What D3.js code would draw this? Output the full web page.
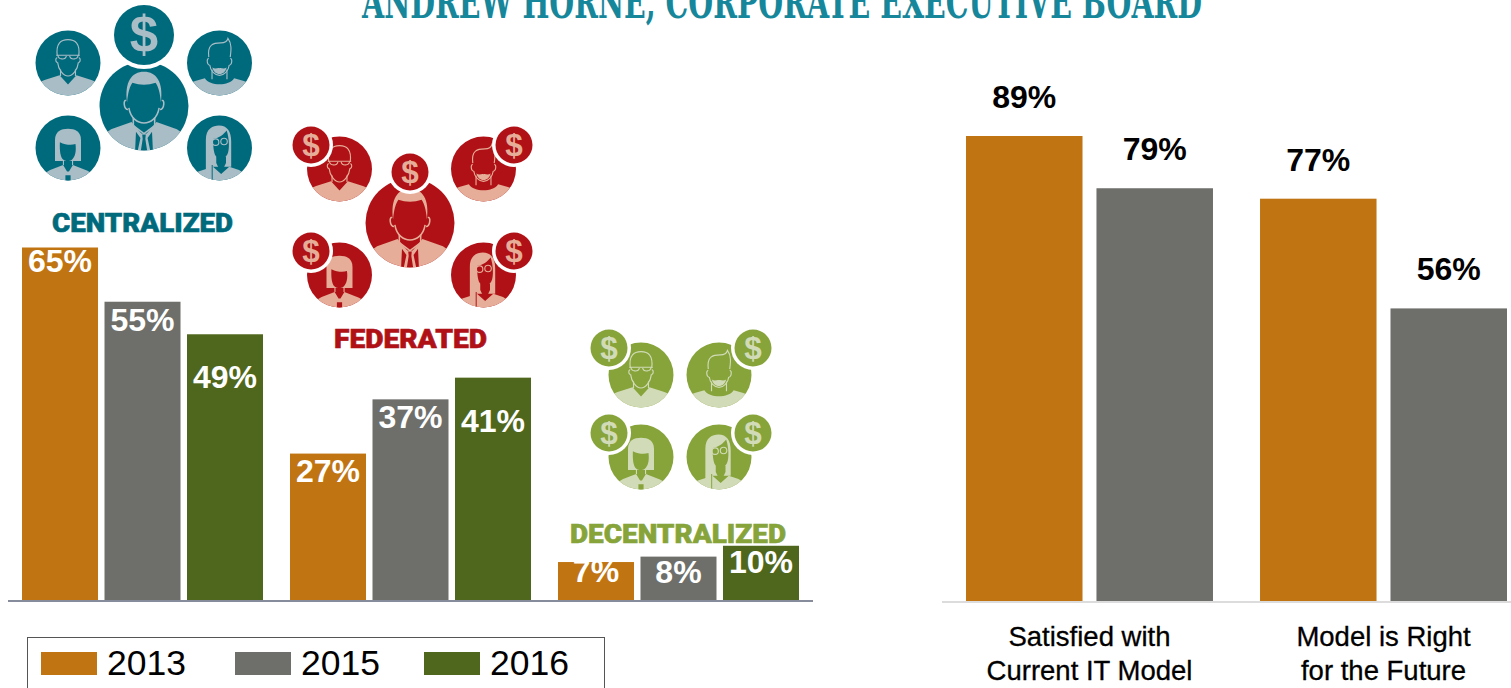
<!DOCTYPE html>
<html>
<head>
<meta charset="utf-8">
<script src="https://cdn.jsdelivr.net/npm/d3@7"></script>
<style>
  html, body { margin: 0; padding: 0; background: #fff; overflow: hidden; }
  text { font-family: "Liberation Sans", Arial, sans-serif; }
</style>
</head>
<body>
<div id="chart"></div>
<script>
// the data
var models = ["CENTRALIZED", "FEDERATED", "DECENTRALIZED"];
var years = ["2013", "2015", "2016"];
var values2013 = [65, 27, 7];
var values2015 = [55, 37, 8];
var values2016 = [49, 41, 10];

var outcomes = ["Satisfied with|Current IT Model", "Model is Right|for the Future"];
var outcomeYears = ["2013", "2015"];
var outcome2013 = [89, 77];
var outcome2015 = [79, 56];

var titleText = "ANDREW HORNE, CORPORATE EXECUTIVE BOARD";

var colors = d3.scaleOrdinal().domain(years).range(["#c07512", "#6e6f6b", "#4f671c"]);
var byYear = {"2013": values2013, "2015": values2015, "2016": values2016};
var outcomeByYear = {"2013": outcome2013, "2015": outcome2015};

var svg = d3.select("#chart")
  .append("svg")
    .attr("width", 1511)
    .attr("height", 688)
    .style("display", "block");

// clip for the portraits, they are all drawn in a circle of radius 100
svg.append("defs").append("clipPath")
    .attr("id", "portrait")
  .append("circle")
    .attr("r", 100);

// title, cut off by the top of the page like in the original
svg.append("text")
    .attr("x", 362)
    .attr("y", 18)
    .attr("textLength", 840)
    .attr("lengthAdjust", "spacingAndGlyphs")
    .style("font-family", "'DejaVu Serif Condensed', 'DejaVu Serif', serif")
    .style("font-size", "44px")
    .style("font-weight", "bold")
    .style("fill", "#16879b")
    .text(titleText);

// left chart
var baseLeft = 600;
var x0 = d3.scaleBand().domain(models).range([22, 799]).paddingInner(0.1007);
var x1 = d3.scaleBand().domain(years).range([0, x0.bandwidth()]).paddingInner(0.0788);
var y = d3.scaleLinear().domain([0, 65]).range([baseLeft, 247.5]);

// how far each label sits under the top of its bar
var labelDrop = {
  "2013": [24, 28, 20],
  "2015": [29, 29, 26],
  "2016": [54, 54, 27]
};

years.forEach(function(year) {
  var g = svg.append("g");
  g.selectAll("rect")
    .data(byYear[year])
    .join("rect")
      .attr("x", function(d, i) { return x0(models[i]) + x1(year); })
      .attr("y", function(d) { return y(d); })
      .attr("width", x1.bandwidth())
      .attr("height", function(d) { return baseLeft - y(d); })
      .style("fill", colors(year));
  g.selectAll("text")
    .data(byYear[year])
    .join("text")
      .attr("x", function(d, i) { return x0(models[i]) + x1(year) + x1.bandwidth() / 2; })
      .attr("y", function(d, i) { return y(d) + labelDrop[year][i]; })
      .attr("text-anchor", "middle")
      .style("font-size", "32px")
      .style("font-weight", "bold")
      .style("fill", "#fff")
      .text(function(d) { return d + "%"; });
});

svg.append("line")
    .attr("x1", 8).attr("x2", 813)
    .attr("y1", 601).attr("y2", 601)
    .style("stroke", "#868c9c")
    .style("stroke-width", 2);

// right chart
var baseRight = 601;
var xr0 = d3.scaleBand().domain(outcomes).range([966, 1507]).paddingInner(0.16);
var xr1 = d3.scaleBand().domain(outcomeYears).range([0, xr0.bandwidth()]).paddingInner(0.107);
var yr = d3.scaleLinear().domain([0, 89]).range([baseRight, 136]);

outcomeYears.forEach(function(year) {
  var g = svg.append("g");
  g.selectAll("rect")
    .data(outcomeByYear[year])
    .join("rect")
      .attr("x", function(d, i) { return xr0(outcomes[i]) + xr1(year); })
      .attr("y", function(d) { return yr(d); })
      .attr("width", xr1.bandwidth())
      .attr("height", function(d) { return baseRight - yr(d); })
      .style("fill", colors(year));
  g.selectAll("text")
    .data(outcomeByYear[year])
    .join("text")
      .attr("x", function(d, i) { return xr0(outcomes[i]) + xr1(year) + xr1.bandwidth() / 2; })
      .attr("y", function(d) { return yr(d) - 28; })
      .attr("text-anchor", "middle")
      .style("font-size", "32px")
      .style("font-weight", "bold")
      .style("fill", "#000")
      .text(function(d) { return d + "%"; });
});

var xAxis = svg.append("g")
    .attr("transform", "translate(0," + baseRight + ")")
    .call(d3.axisBottom(xr0).tickSize(0).tickFormat(""));
xAxis.select(".domain").remove();
xAxis.selectAll(".tick text").remove();
xAxis.selectAll(".tick").each(function(d) {
  var label = d3.select(this).append("text")
      .attr("text-anchor", "middle")
      .style("font-size", "27.5px")
      .style("fill", "#000")
      .style("stroke", "#000")
      .style("stroke-width", 0.3);
  d.split("|").forEach(function(part, i) {
    label.append("tspan").attr("x", 0).attr("y", 45 + i * 33.5).text(part);
  });
});

svg.append("line")
    .attr("x1", 942).attr("x2", 1511)
    .attr("y1", 602).attr("y2", 602)
    .style("stroke", "#dcdcdc")
    .style("stroke-width", 2);

// legend
svg.append("rect")
    .attr("x", 27.5).attr("y", 637.5)
    .attr("width", 577).attr("height", 80)
    .style("fill", "none")
    .style("stroke", "#555");

var legendX = d3.scaleOrdinal().domain(years).range([41, 235, 424]);
years.forEach(function(year) {
  svg.append("rect")
      .attr("x", legendX(year)).attr("y", 652)
      .attr("width", 56).attr("height", 23)
      .style("fill", colors(year));
  svg.append("text")
      .attr("x", legendX(year) + 66).attr("y", 675)
      .style("font-size", "35.5px")
      .style("fill", "#000")
      .text(year);
});

// portraits, drawn in a -100..100 box
// pale = filled light, dark = filled in the circle colour on top, line = light outlines
var glyphs = {
  glasses: {
    pale: ["M-110,110 L-110,68 L-72,52 L-26,38 L0,66 L26,38 L72,52 L110,68 L110,110 Z"],
    dark: [],
    line: ["M-33,-22 C-38,-60 -22,-72 0,-72 C22,-72 38,-60 33,-22",
           "M-32,-2 C-30,20 -14,40 0,40 C14,40 30,20 32,-2",
           "M-23,20 L-23,40 M23,20 L23,40",
           "M-36,-24 L36,-24",
           "M-31,-24 C-30,-10 -8,-8 -5,-22 M31,-24 C30,-10 8,-8 5,-22",
           "M-33,-16 C-40,-16 -38,0 -32,-2 M33,-16 C40,-16 38,0 32,-2"]
  },
  beard: {
    pale: ["M-110,110 L-110,70 L-75,55 L-45,47 C-30,72 30,72 45,47 L75,55 L110,70 L110,110 Z",
           "M-22,14 C-12,20 -6,14 0,16 C6,14 12,20 22,14 C18,30 8,34 0,34 C-8,34 -18,30 -22,14 Z"],
    dark: [],
    line: ["M-33,-18 C-38,-58 -18,-62 4,-62 C18,-62 24,-68 26,-76 C38,-60 36,-40 33,-18",
           "M-23,20 L-23,50 M23,20 L23,50",
           "M-33,-14 C-41,-14 -38,8 -30,6 M33,-14 C41,-14 38,8 30,6",
           "M-30,6 C-28,24 -14,38 0,38 C14,38 28,24 30,6"]
  },
  bob: {
    pale: ["M-110,110 L-110,100 L-55,68 L-15,52 L-3,72 L3,72 L15,52 L60,70 L110,100 L110,110 Z",
           "M-40,40 L-40,-25 C-40,-50 -22,-59 0,-59 C22,-59 40,-50 40,-25 L40,40 Z"],
    dark: ["M-25,-18 C-8,-10 8,-8 23,-12 C26,10 22,28 12,36 C4,42 -6,42 -14,36 C-24,28 -26,8 -25,-18 Z",
           "M-8,84 L8,84 L8,110 L-8,110 Z"],
    line: ["M-14,38 L-14,52 M14,38 L14,52"]
  },
  long: {
    pale: ["M-110,110 L-110,100 L-65,72 L-20,58 L5,80 L30,58 L60,68 L110,100 L110,110 Z",
           "M-42,110 L-42,-25 C-42,-60 -20,-69 -2,-69 C24,-69 36,-50 36,-20 L36,58 L-20,58 L-20,110 Z"],
    dark: ["M-20,-28 C0,-30 14,-44 22,-54 C30,-30 32,5 24,20 C14,38 -4,38 -12,24 C-18,14 -20,-10 -20,-28 Z",
           "M-10,28 L-10,46 L5,78 L20,46 L20,28 Z",
           "M-24,52 L-21,52 L-21,110 L-24,110 Z"],
    line: ["M-2,-18 A10,10 0 1 0 -22,-18 A10,10 0 1 0 -2,-18 M24,-20 A10,10 0 1 0 4,-20 A10,10 0 1 0 24,-20"]
  },
  suit: {
    pale: ["M-110,110 L-110,78 L-74,52 L-28,36 L-6,62 L6,62 L28,36 L74,52 L110,78 L110,110 Z",
           "M-38,-8 C-44,-54 -28,-77 0,-77 C28,-77 44,-54 38,-8 C36,-30 32,-44 26,-52 C10,-46 -10,-46 -26,-52 C-32,-44 -36,-30 -38,-8 Z"],
    dark: ["M-18,58 L-8,72 L-14,100 L-20,100 Z M18,58 L8,72 L14,100 L20,100 Z",
           "M-4,64 L4,64 L3,74 L7,100 L-7,100 L-3,74 Z"],
    line: ["M-40,-12 C-47,-16 -46,8 -36,8 M40,-12 C47,-16 46,8 36,8",
           "M-34,4 C-30,28 -14,38 0,38 C14,38 30,28 34,4",
           "M-24,26 L-24,44 L0,62 L24,44 L24,26"]
  }
};

function person(kind, cx, cy, r, dark, light) {
  var g = svg.append("g")
      .attr("transform", "translate(" + cx + "," + cy + ") scale(" + r / 100 + ")");
  g.append("circle").attr("r", 100).style("fill", dark);
  var inner = g.append("g").attr("clip-path", "url(#portrait)");
  var glyph = glyphs[kind];
  glyph.pale.forEach(function(p) {
    inner.append("path").attr("d", p).style("fill", light);
  });
  glyph.dark.forEach(function(p) {
    inner.append("path").attr("d", p).style("fill", dark);
  });
  glyph.line.forEach(function(p) {
    inner.append("path").attr("d", p)
        .style("fill", "none").style("stroke", light).style("stroke-width", 3.5);
  });
}

function coin(cx, cy, r, ring, dark, light) {
  svg.append("circle").attr("cx", cx).attr("cy", cy).attr("r", r + ring).style("fill", "#fff");
  svg.append("circle").attr("cx", cx).attr("cy", cy).attr("r", r).style("fill", dark);
  svg.append("text")
      .attr("x", cx).attr("y", cy)
      .attr("dy", ".335em")
      .attr("text-anchor", "middle")
      .style("font-size", r * 1.7 + "px")
      .style("font-weight", "bold")
      .style("fill", light)
      .text("$");
}

function modelLabel(text, x, y, width, fill) {
  svg.append("text")
      .attr("x", x).attr("y", y)
      .attr("textLength", width)
      .attr("lengthAdjust", "spacingAndGlyphs")
      .style("font-family", "Roboto, sans-serif")
      .style("font-size", "26px")
      .style("font-weight", 900)
      .style("fill", fill)
      .style("stroke", fill)
      .style("stroke-width", 0.6)
      .text(text);
}

// centralized
var teal = "#006a7d", tealLight = "#a8bdc6";
person("glasses", 68, 63, 32.5, teal, tealLight);
person("beard", 219.5, 63, 32.5, teal, tealLight);
person("bob", 68, 148, 32.5, teal, tealLight);
person("long", 219.5, 148, 32.5, teal, tealLight);
person("suit", 144, 106, 44.5, teal, tealLight);
coin(144, 35, 30, 4, teal, tealLight);
modelLabel(models[0], 52, 232, 181, teal);

// federated
var red = "#b01116", redLight = "#e6ad98";
person("glasses", 339.5, 169, 32.5, red, redLight);
person("beard", 483.5, 169, 32.5, red, redLight);
person("bob", 339.5, 275, 32.5, red, redLight);
person("long", 483.5, 275, 32.5, red, redLight);
person("suit", 410, 223, 44.5, red, redLight);
coin(311, 145, 18.5, 3.5, red, redLight);
coin(514, 145, 18.5, 3.5, red, redLight);
coin(311, 251, 18.5, 3.5, red, redLight);
coin(514, 251, 18.5, 3.5, red, redLight);
coin(410, 172, 18.5, 3.5, red, redLight);
modelLabel(models[1], 334, 348, 153, red);

// decentralized
var green = "#86a43a", greenLight = "#d2dbb8";
person("glasses", 641, 375, 32.5, green, greenLight);
person("beard", 719, 375, 32.5, green, greenLight);
person("bob", 641, 457, 32.5, green, greenLight);
person("long", 719, 457, 32.5, green, greenLight);
coin(609, 348, 18.5, 3.5, green, greenLight);
coin(753, 348, 18.5, 3.5, green, greenLight);
coin(609, 433, 18.5, 3.5, green, greenLight);
coin(753, 433, 18.5, 3.5, green, greenLight);
modelLabel(models[2], 570, 543, 216, green);
</script>
</body>
</html>
